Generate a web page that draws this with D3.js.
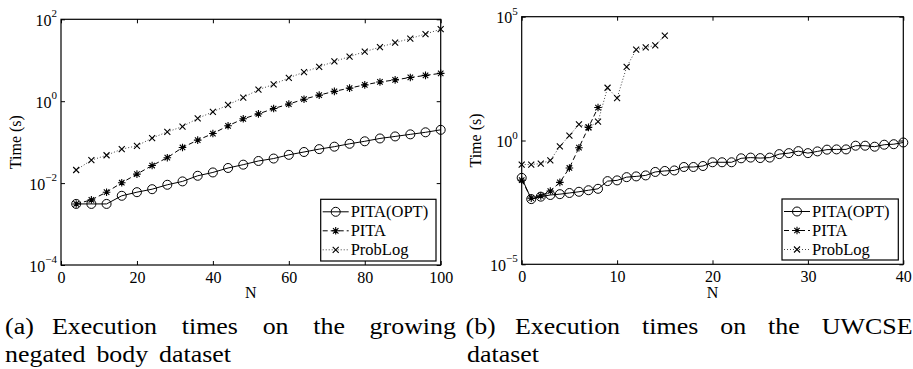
<!DOCTYPE html>
<html>
<head>
<meta charset="utf-8">
<title>Execution times</title>
<script src="https://cdn.jsdelivr.net/npm/d3@7"></script>
<style>
  body { margin: 0; background: #fff; }
  svg { display: block; }
  svg text { font-family: "Liberation Serif", "Times New Roman", Tinos, Times, serif; }
</style>
</head>
<body>
<svg id="chart" width="913" height="369"></svg>
<script>
// (a) growing negated body dataset
var nA = [4, 8, 12, 16, 20, 24, 28, 32, 36, 40, 44, 48, 52, 56, 60, 64, 68, 72, 76, 80, 84, 88, 92, 96, 100];
var optA = [0.0031, 0.0031, 0.0031, 0.0049, 0.0060, 0.0071, 0.0091, 0.011, 0.0151, 0.0182, 0.0234, 0.0282, 0.0347,
            0.0398, 0.049, 0.0575, 0.0676, 0.0776, 0.0912, 0.105, 0.123, 0.138, 0.155, 0.174, 0.2];
var pitaA = [0.0031, 0.0039, 0.0060, 0.0102, 0.0166, 0.0269, 0.0417, 0.0741, 0.112, 0.162, 0.251, 0.372, 0.49,
             0.661, 0.851, 1.12, 1.41, 1.74, 2.09, 2.51, 2.95, 3.31, 3.80, 4.27, 4.79];
var probA = [0.0209, 0.0363, 0.0479, 0.0676, 0.0813, 0.126, 0.178, 0.24, 0.38, 0.55, 0.813, 1.23, 1.91,
             2.57, 3.72, 5.13, 6.92, 9.33, 12.3, 16.2, 20.9, 26.9, 33.9, 43.7, 57.5];

// (b) UWCSE dataset
var nB = [0, 1, 2, 3, 4, 5, 6, 7, 8, 9, 10, 11, 12, 13, 14, 15, 16, 17, 18, 19, 20,
          21, 22, 23, 24, 25, 26, 27, 28, 29, 30, 31, 32, 33, 34, 35, 36, 37, 38, 39, 40];
var optB = [0.031, 0.0043, 0.0054, 0.0063, 0.0068, 0.0076, 0.0085, 0.0098, 0.0112, 0.0229, 0.0245, 0.0331, 0.0355,
            0.0389, 0.0537, 0.0589, 0.0617, 0.0851, 0.0851, 0.0933, 0.132, 0.132, 0.132, 0.191, 0.204, 0.195,
            0.204, 0.282, 0.309, 0.372, 0.309, 0.363, 0.427, 0.437, 0.437, 0.617, 0.617, 0.562, 0.676, 0.708, 0.832];
var pitaB = [0.0251, 0.0047, 0.0058, 0.0091, 0.0204, 0.0776, 0.513, 3.39, 21.4];
var probB = [0.107, 0.107, 0.117, 0.158, 0.575, 1.58, 4.47, 3.39, 5.75, 135, 51.3, 933, 4677, 5754, 6918, 17378];

var seriesNames = ["PITA(OPT)", "PITA", "ProbLog"];
var xTicksA = [0, 20, 40, 60, 80, 100];
var yExpA = [-4, -2, 0, 2];
var xTicksB = [0, 10, 20, 30, 40];
var yExpB = [-5, 0, 5];

var labelA = "(a)", labelB = "(b)";
var captionA = [["Execution", "times", "on", "the", "growing"], ["negated", "body", "dataset"]];
var captionB = [["Execution", "times", "on", "the", "UWCSE"], ["dataset"]];

var svg = d3.select("#chart");

function starPath(s) {
    var d = s * 0.72;
    return "M" + (-s) + ",0H" + s + "M0," + (-s) + "V" + s +
        "M" + (-d) + "," + (-d) + "L" + d + "," + d + "M" + (-d) + "," + d + "L" + d + "," + (-d);
}
function crossPath(s) {
    return "M" + (-s) + "," + (-s) + "L" + s + "," + s + "M" + (-s) + "," + s + "L" + s + "," + (-s);
}

var styles = [
    { dash: null, marker: "circle" },
    { dash: "5,3", marker: "star" },
    { dash: "1,2", marker: "cross", color: "#444" }
];

function drawMarker(g, type, x, y) {
    if (type === "circle") {
        g.append("circle").attr("cx", x).attr("cy", y).attr("r", 4.5)
            .attr("fill", "none").attr("stroke", "#000").attr("stroke-width", 1);
    } else {
        g.append("path").attr("transform", "translate(" + x + "," + y + ")")
            .attr("d", type === "star" ? starPath(3.8) : crossPath(3))
            .attr("fill", "none").attr("stroke", "#000").attr("stroke-width", 1.1);
    }
}

function panel(cfg) {
    var x = d3.scaleLinear().domain(cfg.xDomain).range([cfg.left, cfg.right]);
    var y = d3.scaleLog().domain(cfg.yDomain).range([cfg.bottom, cfg.top]);
    var g = svg.append("g");

    // inward ticks on all four sides
    var bottomAx = d3.axisBottom(x).tickValues(cfg.xTicks).tickSizeInner(-4).tickSizeOuter(0).tickPadding(6.5);
    var topAx = d3.axisTop(x).tickValues(cfg.xTicks).tickSizeInner(-4).tickSizeOuter(0).tickFormat("");
    var yVals = cfg.yExp.map(function (e) { return Math.pow(10, e); });
    var leftAx = d3.axisLeft(y).tickValues(yVals).tickSizeInner(-4).tickSizeOuter(0).tickFormat("");
    var rightAx = d3.axisRight(y).tickValues(yVals).tickSizeInner(-4).tickSizeOuter(0).tickFormat("");

    var gb = g.append("g").attr("transform", "translate(0," + cfg.bottom + ")").call(bottomAx);
    g.append("g").attr("transform", "translate(0," + cfg.top + ")").call(topAx);
    g.append("g").attr("transform", "translate(" + cfg.left + ",0)").call(leftAx);
    g.append("g").attr("transform", "translate(" + cfg.right + ",0)").call(rightAx);
    g.selectAll(".domain").remove();
    g.selectAll(".tick line").attr("stroke", "#000").attr("stroke-width", 1);
    gb.selectAll(".tick text").attr("fill", "#000").attr("font-size", 16);

    // log tick labels with superscript exponents
    cfg.yExp.forEach(function (e) {
        var t = g.append("text").attr("x", cfg.left - 4).attr("y", y(Math.pow(10, e)) + 6.5)
            .attr("text-anchor", "end").attr("font-size", 16).attr("fill", "#000");
        t.append("tspan").text("10");
        t.append("tspan").attr("dy", -8.5).attr("font-size", 11).text(e < 0 ? "\u2212" + (-e) : String(e));
    });

    g.append("rect").attr("x", cfg.left).attr("y", cfg.top)
        .attr("width", cfg.right - cfg.left).attr("height", cfg.bottom - cfg.top)
        .attr("fill", "none").attr("stroke", "#000").attr("stroke-width", 1.2);

    g.append("text").attr("x", (cfg.left + cfg.right) / 2).attr("y", 298)
        .attr("text-anchor", "middle").attr("font-size", 16).text("N");
    g.append("text").attr("transform", "translate(" + cfg.yLabelX + "," + (cfg.top + cfg.bottom) / 2 + ") rotate(-90)")
        .attr("text-anchor", "middle").attr("font-size", 16).text("Time (s)");

    var line = d3.line().x(function (d) { return x(d[0]); }).y(function (d) { return y(d[1]); });

    cfg.series.forEach(function (vals, i) {
        var pts = vals.map(function (v, j) { return [cfg.n[j], v]; });
        var st = styles[i];
        g.append("path").datum(pts).attr("d", line)
            .attr("fill", "none").attr("stroke", st.color || "#000").attr("stroke-width", 1)
            .attr("stroke-dasharray", st.dash);
        var mg = g.append("g");
        pts.forEach(function (p) { drawMarker(mg, st.marker, x(p[0]), y(p[1])); });
    });

    // legend
    var L = cfg.legend[0], T = cfg.legend[1], W = cfg.legend[2], H = cfg.legend[3];
    var lg = g.append("g");
    lg.append("rect").attr("x", L).attr("y", T).attr("width", W).attr("height", H)
        .attr("fill", "#fff").attr("stroke", "#000").attr("stroke-width", 1.2);
    seriesNames.forEach(function (name, i) {
        var yy = T + 12.5 + i * 19;
        var st = styles[i];
        lg.append("line").attr("x1", L + 2).attr("x2", L + 28).attr("y1", yy).attr("y2", yy)
            .attr("stroke", st.color || "#000").attr("stroke-width", 1).attr("stroke-dasharray", st.dash);
        drawMarker(lg, st.marker, L + 15, yy);
        lg.append("text").attr("x", L + 30).attr("y", yy + 5.5).attr("font-size", 16.5).text(name);
    });
}

panel({
    left: 61, right: 440.7, top: 19.3, bottom: 265,
    xDomain: [0, 100], yDomain: [1e-4, 1e2],
    xTicks: xTicksA, yExp: yExpA, yLabelX: 21,
    n: nA, series: [optA, pitaA, probA],
    legend: [320.7, 199.3, 115.3, 61.7]
});
panel({
    left: 521.7, right: 903.3, top: 16.7, bottom: 264.3,
    xDomain: [0, 40], yDomain: [1e-5, 1e5],
    xTicks: xTicksB, yExp: yExpB, yLabelX: 481,
    n: nB, series: [optB, pitaB, probB],
    legend: [782, 199, 116.3, 61]
});

// captions: label, then first line justified, second line set ragged
var capSize = 24, capScale = 1.08;
function captionLine(words, x0, x1, yb, justify) {
    var cg = svg.append("g");
    var texts = words.map(function (w) {
        return cg.append("text").attr("font-size", capSize).text(w);
    });
    var widths = texts.map(function (t) { return t.node().getComputedTextLength() * capScale; });
    var gap = justify && words.length > 1 ?
        (x1 - x0 - d3.sum(widths)) / (words.length - 1) : capSize * 0.45;
    var xx = x0;
    texts.forEach(function (t, i) {
        t.attr("transform", "translate(" + xx + "," + yb + ") scale(" + capScale + ",1)");
        xx += widths[i] + gap;
    });
}
captionLine([labelA], 5, 47, 334, false);
captionLine(captionA[0], 52, 456, 334, true);
captionLine(captionA[1], 5, 456, 362, false);
captionLine([labelB], 465.5, 500, 334, false);
captionLine(captionB[0], 515, 912.5, 334, true);
captionLine(captionB[1], 467, 912.5, 362, false);
</script>
</body>
</html>
